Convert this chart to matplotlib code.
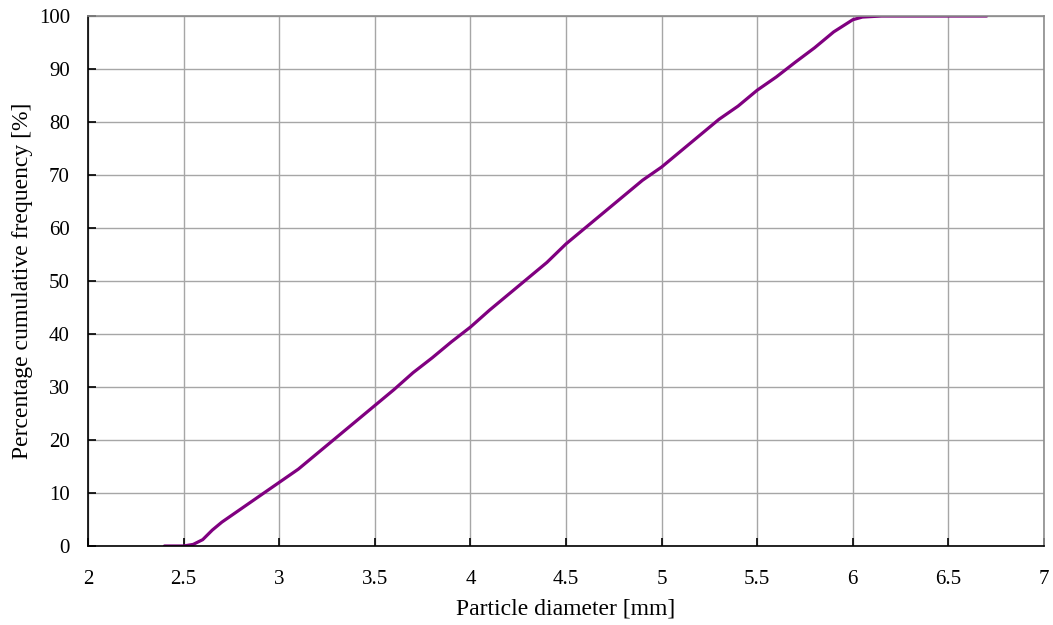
import matplotlib
matplotlib.use("Agg")
import matplotlib.pyplot as plt
import numpy as np

# cumulative size distribution
diameter = [2.4, 2.5, 2.55, 2.6, 2.65, 2.7, 2.8, 2.9, 3.0, 3.1, 3.2, 3.3, 3.4,
            3.5, 3.6, 3.7, 3.8, 3.9, 4.0, 4.1, 4.2, 4.3, 4.4, 4.5, 4.6, 4.7,
            4.8, 4.9, 5.0, 5.1, 5.2, 5.3, 5.4, 5.5, 5.6, 5.7, 5.8, 5.9, 6.0,
            6.05, 6.15, 6.7]
cumfreq = [0, 0, 0.3, 1.2, 3.0, 4.5, 7.0, 9.5, 12.0, 14.5, 17.5, 20.5, 23.5,
           26.5, 29.5, 32.7, 35.5, 38.5, 41.3, 44.5, 47.5, 50.5, 53.5, 57.0,
           60.0, 63.0, 66.0, 69.0, 71.5, 74.5, 77.5, 80.5, 83.0, 86.0, 88.5,
           91.3, 94.0, 97.0, 99.3, 99.8, 100, 100]

plt.rcParams['font.family'] = ['Liberation Serif', 'DejaVu Serif']
plt.rcParams['font.size'] = 15

fig = plt.figure(figsize=(10.53, 6.25), dpi=100)
ax = fig.add_axes([88/1053, 1 - 546/625, (1044 - 88)/1053, (546 - 16)/625])

ax.plot(diameter, cumfreq, color='#800080', lw=2.3, solid_capstyle='round')

ax.set_xlim(2, 7)
ax.set_ylim(0, 100)
ax.set_xticks(np.arange(2, 7.01, 0.5))
ax.set_xticklabels(['2', '2.5', '3', '3.5', '4', '4.5', '5', '5.5', '6', '6.5', '7'])
ax.set_yticks(np.arange(0, 101, 10))
ax.grid(True, color='#a6a6a6', lw=1)
ax.set_axisbelow(True)
ax.tick_params(direction='in', length=6, width=1.2)
ax.tick_params(axis='x', pad=17)
ax.tick_params(axis='y', pad=13)
for s in ['top', 'right']:
    ax.spines[s].set_color('#8c8c8c')
    ax.spines[s].set_linewidth(1.2)
for s in ['left', 'bottom']:
    ax.spines[s].set_linewidth(1.2)

ax.set_xlabel('Particle diameter [mm]', fontsize=17, labelpad=7)
ax.set_ylabel('Percentage cumulative frequency [%]', fontsize=17, labelpad=4)

fig.savefig('out.png', dpi=100)
